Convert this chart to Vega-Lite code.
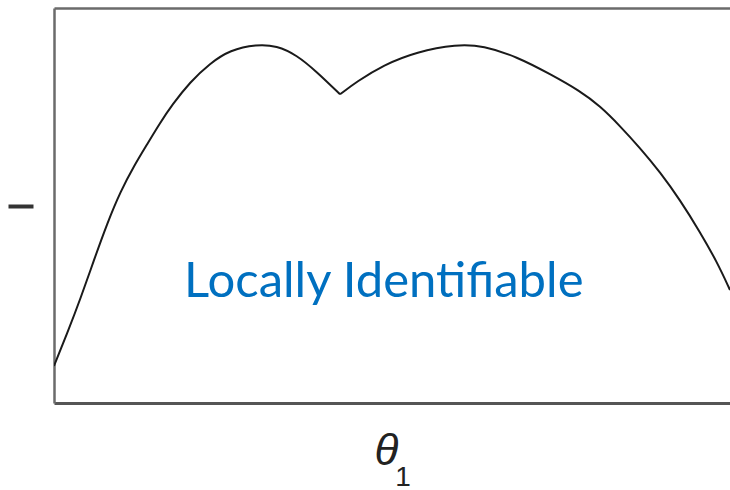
{
  "$schema": "https://vega.github.io/schema/vega-lite/v6.json",
  "autosize": "none",
  "padding": {"left": 54, "top": 8, "right": 0, "bottom": 87},
  "width": 676,
  "height": 395,
  "background": "white",
  "config": {"view": {"stroke": null}},
  "title": {"text": "1", "orient": "bottom", "anchor": "middle", "dx": 11, "offset": -9, "fontSize": 28, "font": "Liberation Sans", "fontWeight": "normal", "color": "#222"},
  "resolve": {"axis": {"x": "independent", "y": "independent"}},
  "layer": [
    {
      "data": {"values": [
        {"seg": "a", "x": 0, "y": 9.37},
        {"seg": "a", "x": 1.96, "y": 17.72},
        {"seg": "a", "x": 3.93, "y": 26.58},
        {"seg": "a", "x": 5.88, "y": 36.2},
        {"seg": "a", "x": 7.84, "y": 45.57},
        {"seg": "a", "x": 9.81, "y": 53.67},
        {"seg": "a", "x": 11.76, "y": 60.0},
        {"seg": "a", "x": 13.72, "y": 65.57},
        {"seg": "a", "x": 15.59, "y": 70.89},
        {"seg": "a", "x": 17.35, "y": 75.44},
        {"seg": "a", "x": 20.0, "y": 81.27},
        {"seg": "a", "x": 22.94, "y": 86.0},
        {"seg": "a", "x": 25.88, "y": 89.37},
        {"seg": "a", "x": 29.81, "y": 90.81},
        {"seg": "a", "x": 32.75, "y": 90.46},
        {"seg": "a", "x": 35.69, "y": 88.1},
        {"seg": "a", "x": 38.63, "y": 83.87},
        {"seg": "a", "x": 42.06, "y": 78.15},
        {"seg": "b", "x": 42.06, "y": 78.15},
        {"seg": "b", "x": 44.51, "y": 81.34},
        {"seg": "b", "x": 48.43, "y": 85.57},
        {"seg": "b", "x": 53.34, "y": 88.94},
        {"seg": "b", "x": 59.22, "y": 90.81},
        {"seg": "b", "x": 63.13, "y": 90.46},
        {"seg": "b", "x": 68.04, "y": 87.67},
        {"seg": "b", "x": 72.94, "y": 83.29},
        {"seg": "b", "x": 77.35, "y": 78.99},
        {"seg": "b", "x": 80.29, "y": 75.19},
        {"seg": "b", "x": 83.24, "y": 70.13},
        {"seg": "b", "x": 86.18, "y": 64.56},
        {"seg": "b", "x": 89.12, "y": 58.48},
        {"seg": "b", "x": 92.06, "y": 51.39},
        {"seg": "b", "x": 95.0, "y": 43.29},
        {"seg": "b", "x": 97.5, "y": 35.7},
        {"seg": "b", "x": 99.41, "y": 28.61}
      ]},
      "mark": {"type": "line", "color": "#1a1a1a", "strokeWidth": 2, "interpolate": "basis", "clip": true},
      "encoding": {
        "x": {"field": "x", "type": "quantitative", "scale": {"domain": [0, 99.41], "nice": false, "zero": false},
          "axis": {"orient": "bottom", "domain": true, "domainColor": "#555", "domainWidth": 3, "ticks": false, "labels": false, "grid": false,
            "title": "θ", "titleFont": "Liberation Sans", "titleFontStyle": "italic", "titleFontWeight": "normal", "titleFontSize": 44, "titleColor": "#222", "titlePadding": 26, "titleX": 332}},
        "y": {"field": "y", "type": "quantitative", "scale": {"domain": [0, 100], "nice": false, "zero": false},
          "axis": {"orient": "left", "domain": true, "domainColor": "#6b6b6b", "domainWidth": 2.5, "ticks": false, "labels": false, "grid": false, "title": null}},
        "detail": {"field": "seg", "type": "nominal"}
      }
    },
    {
      "data": {"values": [{"x": 48.5, "y": 26.8, "label": "Locally Identifiable"}]},
      "mark": {"type": "text", "font": "Lato", "fontSize": 49, "color": "#0070C0", "align": "center", "baseline": "alphabetic"},
      "encoding": {
        "x": {"field": "x", "type": "quantitative",
          "axis": {"orient": "top", "domain": true, "domainColor": "#6b6b6b", "domainWidth": 2.5, "ticks": false, "labels": false, "grid": false, "title": null}},
        "y": {"field": "y", "type": "quantitative",
          "axis": {"orient": "left", "offset": 21, "domain": false, "values": [50], "ticks": true, "tickSize": 25, "tickWidth": 4, "tickColor": "#333", "labels": false, "grid": false, "title": null}},
        "text": {"field": "label", "type": "nominal"}
      }
    }
  ]
}
